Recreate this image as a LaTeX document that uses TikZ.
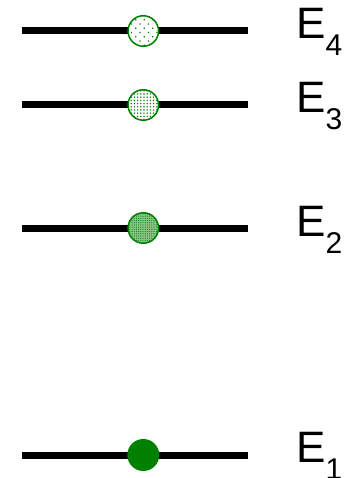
\documentclass[tikz,border=0pt]{standalone}
\usepackage{fontspec}
\setmainfont{Liberation Sans}
\usetikzlibrary{patterns.meta}
\definecolor{lvgreen}{RGB}{0,128,0}
\tikzset{
  level/.style={line width=7pt},
  stateball/.style={circle, draw=lvgreen, line width=1.5pt, minimum size=30.5pt, inner sep=0pt},
  lbl/.style={anchor=base west, inner sep=0pt, font=\fontsize{44}{44}\selectfont},
}
\newcommand{\elabel}[1]{E\raisebox{-17pt}{\fontsize{30}{30}\selectfont #1}}
\begin{document}
\begin{tikzpicture}[x=1pt,y=-1pt]
\useasboundingbox (0,0) rectangle (349,478);
% levels
\coordinate (l4a) at (22,31); \coordinate (l4b) at (248,31);
\coordinate (l3a) at (22,105); \coordinate (l3b) at (248,105);
\coordinate (l2a) at (22,228); \coordinate (l2b) at (248,228);
\coordinate (l1a) at (22,455); \coordinate (l1b) at (248,455);
\draw[level] (l4a) -- (l4b);
\draw[level] (l3a) -- (l3b);
\draw[level] (l2a) -- (l2b);
\draw[level] (l1a) -- (l1b);
% balls
\node[stateball, fill=white, postaction={pattern={Dots[distance=6pt, radius=0.9pt, angle=45]}, pattern color=lvgreen}] (b4) at (143.3,31) {};
\node[stateball, fill=white, postaction={pattern={Dots[distance=3.2pt, radius=0.8pt]}, pattern color=lvgreen}] (b3) at (143.3,105) {};
\node[stateball, fill=lvgreen!45!white, postaction={pattern={Dots[distance=2.2pt, radius=0.6pt]}, pattern color=lvgreen}] (b2) at (143.3,228) {};
\node[stateball, fill=lvgreen] (b1) at (143.3,455) {};
% labels
\node[lbl] (t4) at (296,39) {\elabel{4}};
\node[lbl] (t3) at (296,113) {\elabel{3}};
\node[lbl] (t2) at (296,236) {\elabel{2}};
\node[lbl] (t1) at (296,462) {\elabel{1}};
\end{tikzpicture}
\end{document}
